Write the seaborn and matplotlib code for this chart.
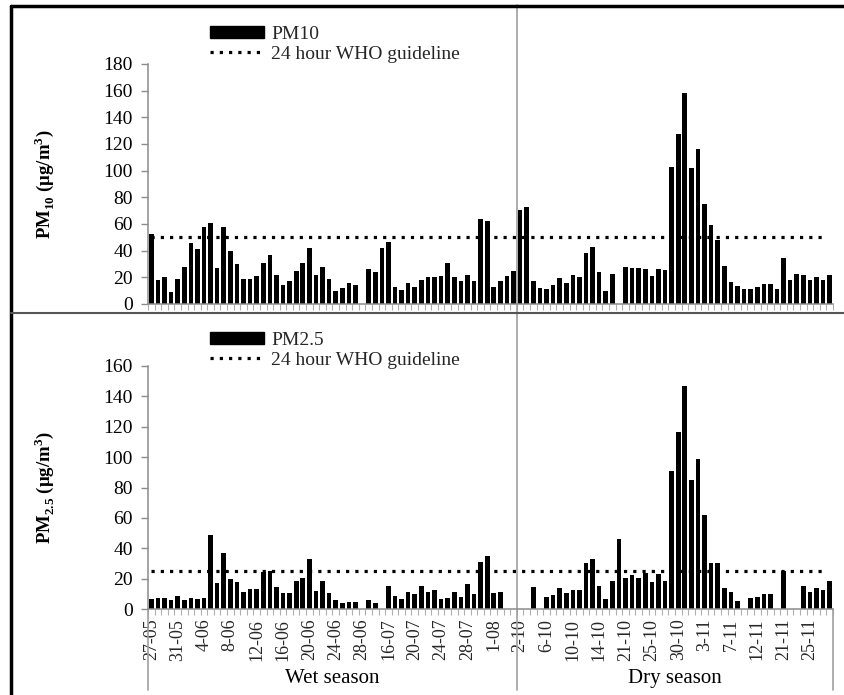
import numpy as np
import pandas as pd
import seaborn as sns
import matplotlib
matplotlib.use("Agg")
import matplotlib.pyplot as plt
from matplotlib.patches import Patch
from matplotlib.lines import Line2D

# ---------------- data ----------------
tick_labels = ["27-05", "31-05", "4-06", "8-06", "12-06", "16-06", "20-06", "24-06",
               "28-06", "16-07", "20-07", "24-07", "28-07", "1-08",
               "2-10", "6-10", "10-10", "14-10", "21-10", "25-10", "30-10", "3-11",
               "7-11", "12-11", "21-11", "25-11"]
seasons = ["Wet season", "Dry season"]
season_sizes = [56, 48]

pm10_wet = [52.5, 18, 20, 9, 19, 28, 45.5, 41, 58, 61, 27, 58, 40, 30, 19, 19, 21, 31, 37, 22,
            14, 17, 25, 31, 42, 22, 28, 19, 10, 12, 16, 14, None, 26, 24, 42, 46.5, 12.5, 10.5, 16,
            13, 18, 20, 20, 21, 31, 20, 17, 22, 17, 64, 62, 13, 17, 21, 25]
pm10_dry = [70.5, 72.5, 17, 12, 11, 14.5, 19.5, 16, 22, 20, 38, 42.5, 24, 10, 22.5, None,
            28, 27, 27, 26.5, 21, 26, 25.5, 102.5, 127.5, 158, 102, 116, 75, 59, 48, 28.6,
            16.3, 13.3, 11.3, 11.3, 13, 15, 15, 11, 34.4, 18, 22.4, 21.4, 18.3, 20.4, 18.3, 21.4]

pm25_wet = [6.4, 7.2, 7.2, 5.9, 8.5, 5.9, 7.2, 6.4, 7.2, 49, 17, 37, 19.5, 18, 11, 13.4, 13.4,
            24.3, 25.2, 14.3, 10.3, 10.7, 18.6, 20.6, 32.9, 11.6, 18.6, 10.7, 5.9, 4.1, 4.3, 4.8,
            None, 6.1, 4.1, None, 15, 8.5, 6.3, 10.9, 9.6, 15, 10.9, 12.6, 6.3, 7, 11.5, 8, 16.7,
            9.8, 30.9, 35, 10.7, 11.5, None, None]
pm25_dry = [None, None, 14.3, None, 8.1, 9.4, 14, 10.3, 12.7, 12.7, 30.3, 32.7, 15.4, 6.8, 18.6,
            46, 20.2, 22.1, 20.4, 23.5, 18, 22.8, 18.6, 90.8, 116.7, 147, 85.2, 98.5, 61.7, 30, 30,
            13.5, 10.9, 5.2, None, 7, 7.8, 10, 10, None, 25.2, None, None, 15.2, 10.9, 13.9, 12.4,
            18.5]

who_pm10 = 50
who_pm25 = 25

# ---------------- frame ----------------
n = sum(season_sizes)
df = pd.DataFrame({
    "idx": list(range(n)),
    "pm10": pd.to_numeric(pd.Series(pm10_wet + pm10_dry), errors="coerce"),
    "pm25": pd.to_numeric(pd.Series(pm25_wet + pm25_dry), errors="coerce"),
})

sns.set_theme(style="white")
plt.rcParams["font.family"] = ["Liberation Serif", "DejaVu Serif"]
plt.rcParams["mathtext.fontset"] = "custom"
plt.rcParams["mathtext.rm"] = "Liberation Serif"
plt.rcParams["mathtext.bf"] = "Liberation Serif:bold"

W, H = 845, 695
fig = plt.figure(figsize=(W / 100, H / 100), dpi=100)
fig.patch.set_facecolor("white")

def axes_px(x0, x1, ytop, ybot):
    return fig.add_axes([x0 / W, 1 - ybot / H, (x1 - x0) / W, (ybot - ytop) / H])

ax1 = axes_px(148, 833, 64, 304)
ax2 = axes_px(148, 833, 366, 609)

gray = "#8c8c8c"
order = list(range(n))
sep = season_sizes[0] - 0.5
tick_pos = list(range(0, n, 4))[:len(tick_labels)]

def style(ax, ymax, ystep, col, who, label, legname, leg_y, show_xlabels):
    sns.barplot(data=df, x="idx", y=col, order=order, color="black", width=0.7,
                errorbar=None, edgecolor="black", linewidth=0, saturation=1, ax=ax)
    ax.plot([0, n - 2], [who, who], color="black", lw=2.3, linestyle=(0, (1, 1.9)))
    ax.set_xlim(-0.5, n - 0.5)
    ax.set_ylim(0, ymax)
    ax.set_yticks(np.arange(0, ymax + 1, ystep))
    ax.tick_params(axis="y", which="major", left=True, length=5, width=1, color=gray,
                   labelsize=14, pad=6, labelcolor="black")
    for s in ["top", "right"]:
        ax.spines[s].set_visible(False)
    for s in ["left", "bottom"]:
        ax.spines[s].set_color(gray)
        ax.spines[s].set_linewidth(1.1)
    ax.set_xticks(tick_pos)
    ax.set_xticks(np.arange(-0.5, n, 1), minor=True)
    ax.tick_params(axis="x", which="minor", bottom=True, length=4, width=0.8, color="#b0b0b0")
    ax.tick_params(axis="x", which="major", bottom=False, length=0)
    if show_xlabels:
        ax.set_xticklabels(tick_labels, rotation=90, fontsize=13, va="top", ha="center")
        ax.tick_params(axis="x", which="major", pad=7)
    else:
        ax.set_xticklabels([])
    ax.set_xlabel("")
    ax.set_ylabel(label, fontsize=13.5, fontweight="bold", color="black")
    ax.yaxis.set_label_coords(-0.134, 0.5)
    handles = [Patch(facecolor="black", edgecolor="black"),
               Line2D([0], [0], color="black", lw=2.3, linestyle=(0, (1, 1.9)))]
    ax.legend(handles, [legname, "24 hour WHO guideline"], loc="upper left",
              bbox_to_anchor=(0.0905, leg_y), borderaxespad=0, borderpad=0, frameon=False,
              handlelength=2.8, handleheight=0.6, handletextpad=0.35, labelspacing=0.15,
              fontsize=14)

style(ax1, 180, 20, "pm10", who_pm10, "PM$_{\\mathbf{10}}$ (μg/m$^{\\mathbf{3}}$)", "PM10", 1.16, False)
style(ax2, 160, 20, "pm25", who_pm25, "PM$_{\\mathbf{2.5}}$ (μg/m$^{\\mathbf{3}}$)", "PM2.5", 1.14, True)

# season separators / group lines
ax1.axvline(sep, ymin=-0.04, ymax=1.245, color="#a0a0a0", lw=1.2, clip_on=False)
ax2.axvline(sep, ymin=-0.335, ymax=1.22, color="#a0a0a0", lw=1.2, clip_on=False)
for xv in [-0.5, n - 0.5]:
    ax2.axvline(xv, ymin=-0.335, ymax=0, color="#a0a0a0", lw=1.2, clip_on=False)

# season labels
starts = np.cumsum([0] + season_sizes[:-1])
for s, st, sz in zip(seasons, starts, season_sizes):
    ax2.text(st - 0.5 + sz / 2, -0.285, s, transform=ax2.get_xaxis_transform(),
             ha="center", va="center", fontsize=15, color="black")

# outer frame lines
fig.add_artist(Line2D([11 / W, 11 / W], [0, 1 - 6 / H], transform=fig.transFigure,
                      color="black", lw=2.5))
fig.add_artist(Line2D([11 / W, 1], [1 - 6 / H, 1 - 6 / H], transform=fig.transFigure,
                      color="black", lw=2.5))
fig.add_artist(Line2D([11 / W, 1], [1 - 313 / H, 1 - 313 / H], transform=fig.transFigure,
                      color="#555555", lw=1.5))

fig.savefig("out.png", dpi=100, facecolor="white")
